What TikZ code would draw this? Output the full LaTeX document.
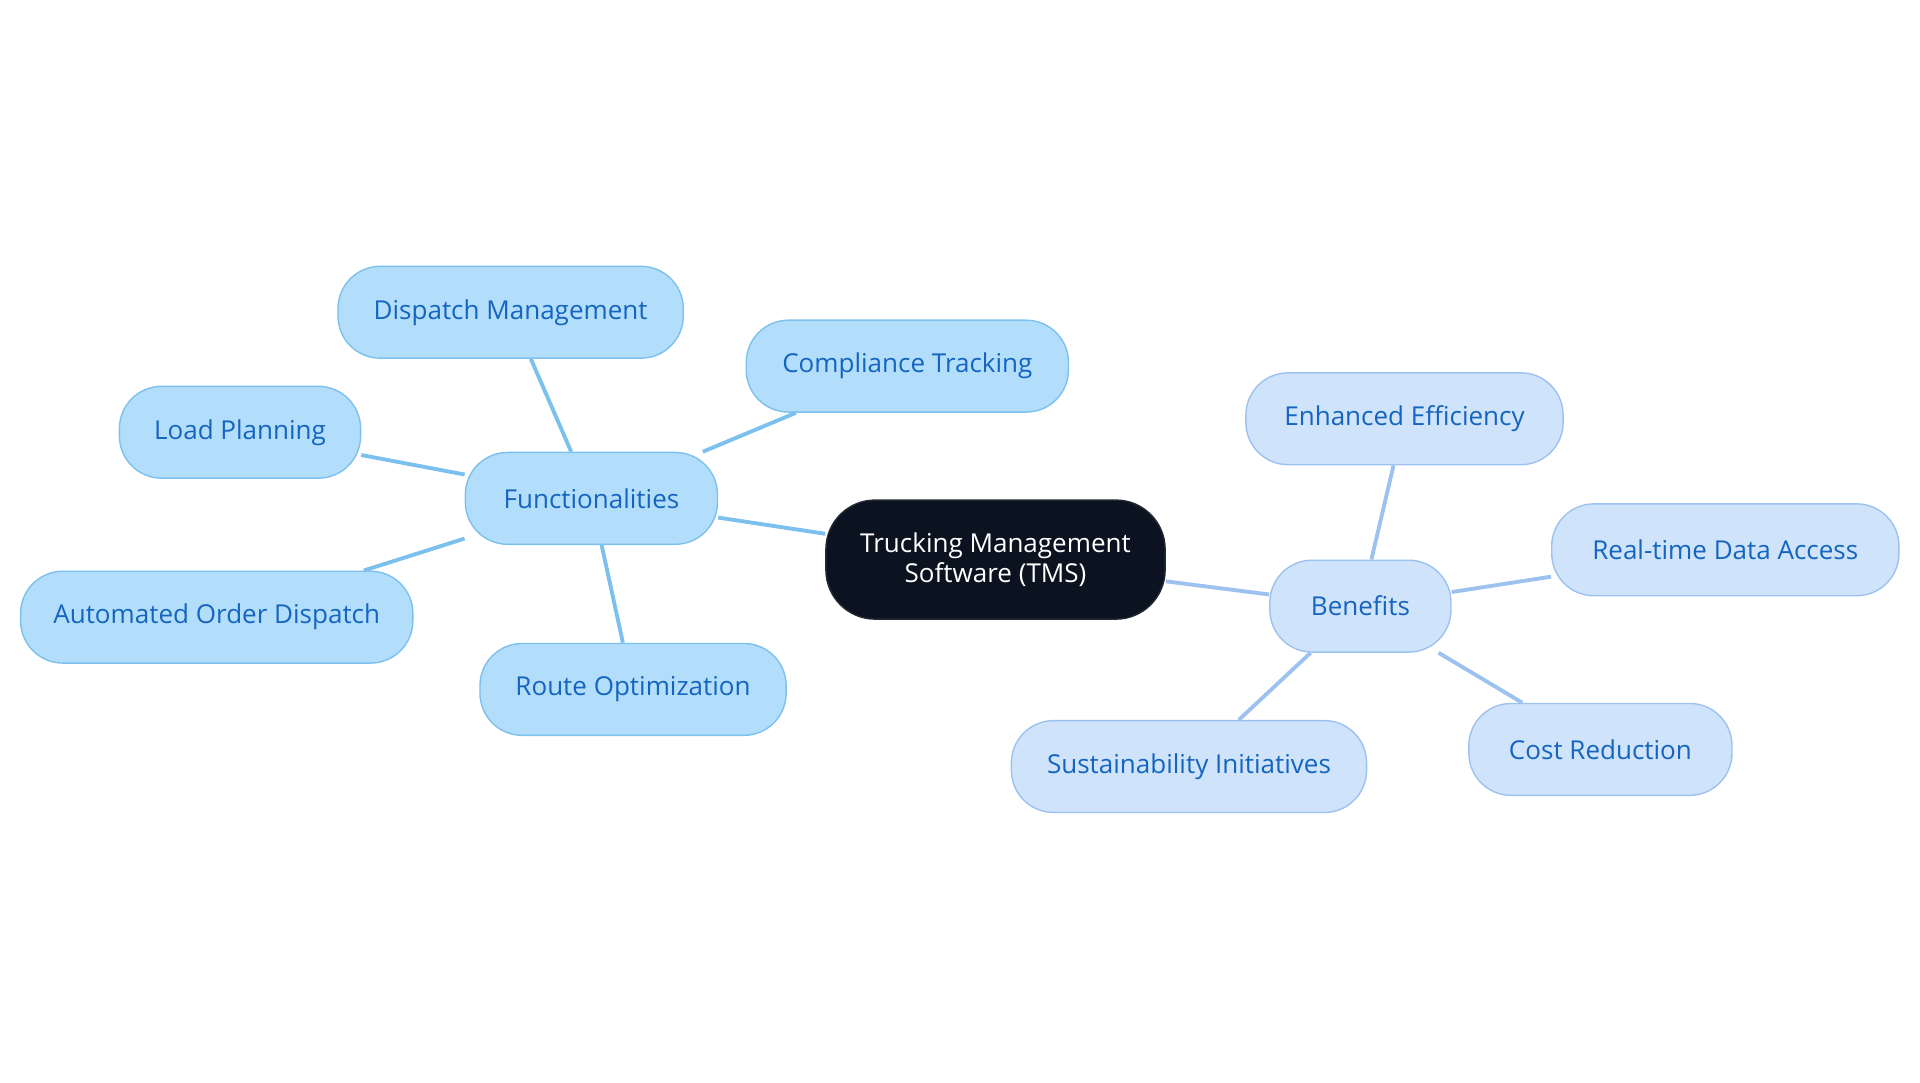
\documentclass[tikz,border=0pt]{standalone}
\usepackage{fontspec}
\setmainfont{Open Sans}
\definecolor{rootfill}{HTML}{0B1320}
\definecolor{funcfill}{HTML}{B3DEFB}
\definecolor{funcline}{HTML}{7CC0EE}
\definecolor{benfill}{HTML}{CFE3FA}
\definecolor{benline}{HTML}{9DC2F0}
\definecolor{leaftext}{HTML}{1565C0}
\tikzset{
  base/.style={rounded corners=12pt,minimum height=0.918cm,inner xsep=0pt,font=\fontsize{7.4}{8.4}\selectfont,align=center},
  rootbox/.style={base,fill=rootfill,draw=rootfill!80!gray,text=white,minimum height=1.19cm,rounded corners=14pt},
  funcbox/.style={base,fill=funcfill,draw=funcline,text=leaftext},
  benbox/.style={base,fill=benfill,draw=benline,text=leaftext},
  funcedge/.style={draw=funcline,line width=1.1pt},
  benedge/.style={draw=benline,line width=1.1pt}
}
\begin{document}
\begin{tikzpicture}[x=0.012245cm,y=-0.012245cm]
\useasboundingbox(0,0)rectangle(1568,884);
% centre
\node[rootbox,minimum width=3.39cm](tms)at(813,457){Trucking Management\\Software (TMS)};
% functionalities
\node[funcbox,minimum width=2.52cm](func)at(483,407){Functionalities};
\node[funcbox,minimum width=3.45cm](disp)at(417,255){Dispatch Management};
\node[funcbox,minimum width=3.22cm](comp)at(741,299){Compliance Tracking};
\node[funcbox,minimum width=2.41cm](load)at(196,353){Load Planning};
\node[funcbox,minimum width=3.92cm](auto)at(177,504){Automated Order Dispatch};
\node[funcbox,minimum width=3.06cm](route)at(517,563){Route Optimization};
% benefits
\node[benbox,minimum width=1.81cm](ben)at(1111,495){Benefits};
\node[benbox,minimum width=3.17cm](eff)at(1147,342){Enhanced Efficiency};
\node[benbox,minimum width=3.47cm](real)at(1409,449){Real-time Data Access};
\node[benbox,minimum width=2.63cm](cost)at(1307,612){Cost Reduction};
\node[benbox,minimum width=3.55cm](sust)at(971,626){Sustainability Initiatives};
% connectors
\draw[funcedge](tms)--(func);
\foreach \n in {disp,comp,load,auto,route}
  \draw[funcedge](func)--(\n);
\draw[benedge](tms)--(ben);
\foreach \n in {eff,real,cost,sust}
  \draw[benedge](ben)--(\n);
\end{tikzpicture}
\end{document}
